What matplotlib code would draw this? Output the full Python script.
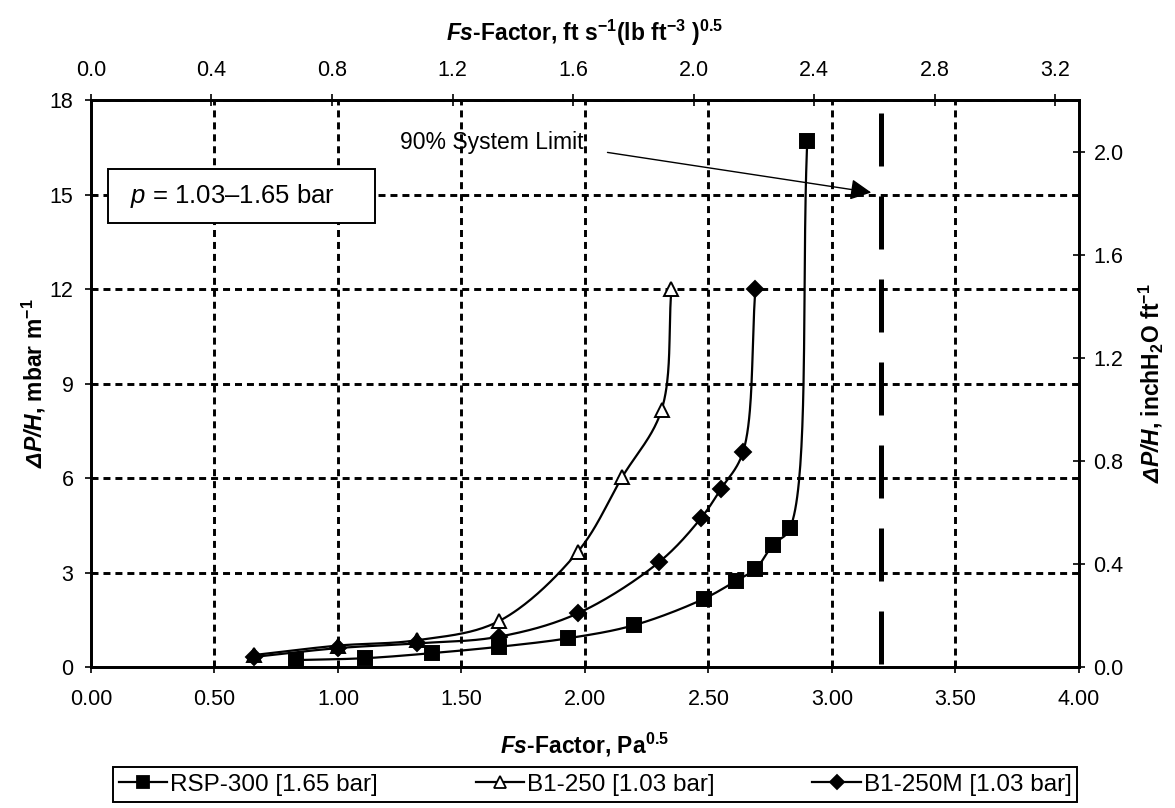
import numpy as np
import matplotlib
matplotlib.use('Agg')
import matplotlib.pyplot as plt
import matplotlib.patches as mpatches
from matplotlib.lines import Line2D

plt.rcParams['font.family'] = ['Liberation Sans', 'DejaVu Sans']
plt.rcParams['mathtext.fontset'] = 'custom'
plt.rcParams['mathtext.rm'] = 'Liberation Sans'
plt.rcParams['mathtext.it'] = 'Liberation Sans:italic'
plt.rcParams['mathtext.bf'] = 'Liberation Sans:bold'
plt.rcParams['mathtext.bfit'] = 'Liberation Sans:bold:italic'

# ── data (Fs-factor in Pa^0.5, dP/H in mbar/m) ──────────────────────
rsp_x = [0.83, 1.11, 1.38, 1.65, 1.93, 2.20, 2.48, 2.61, 2.69, 2.76, 2.83, 2.90]
rsp_y = [0.22, 0.28, 0.44, 0.64, 0.91, 1.33, 2.16, 2.73, 3.11, 3.87, 4.41, 16.7]

b1_x = [0.66, 1.00, 1.32, 1.65, 1.97, 2.15, 2.31, 2.35]
b1_y = [0.38, 0.68, 0.85, 1.45, 3.65, 6.02, 8.16, 12.0]

b1m_x = [0.66, 1.00, 1.32, 1.65, 1.97, 2.30, 2.47, 2.55, 2.64, 2.69]
b1m_y = [0.32, 0.60, 0.75, 0.96, 1.70, 3.33, 4.73, 5.65, 6.83, 12.0]

SYSTEM_LIMIT = 3.2
LABELS = ['RSP-300 [1.65 bar]', 'B1-250 [1.03 bar]', 'B1-250M [1.03 bar]']

FS_TO_IMP = 3.28084 * np.sqrt(0.0624280)        # Pa^0.5 -> ft/s (lb/ft3)^0.5
MBAR_TO_INH2O = 100 * 0.3048 / 249.089          # mbar/m -> inH2O/ft

# rough px per data unit, so the spline is built in screen-like space
SX, SY = 247.0, 31.5


def smooth(x, y, n=40):
    # centripetal Catmull-Rom through the points (Excel-like smoothed line)
    p = np.column_stack([np.asarray(x) * SX, np.asarray(y) * SY]).astype(float)
    p = np.vstack([2 * p[0] - p[1], p, 2 * p[-1] - p[-2]])
    out = []
    for i in range(1, len(p) - 2):
        p0, p1, p2, p3 = p[i - 1], p[i], p[i + 1], p[i + 2]
        t0 = 0.0
        t1 = t0 + np.linalg.norm(p1 - p0) ** 0.5
        t2 = t1 + np.linalg.norm(p2 - p1) ** 0.5
        t3 = t2 + np.linalg.norm(p3 - p2) ** 0.5
        t = np.linspace(t1, t2, n)[:, None]
        a1 = (t1 - t) / (t1 - t0) * p0 + (t - t0) / (t1 - t0) * p1
        a2 = (t2 - t) / (t2 - t1) * p1 + (t - t1) / (t2 - t1) * p2
        a3 = (t3 - t) / (t3 - t2) * p2 + (t - t2) / (t3 - t2) * p3
        b1 = (t2 - t) / (t2 - t0) * a1 + (t - t0) / (t2 - t0) * a2
        b2 = (t3 - t) / (t3 - t1) * a2 + (t - t1) / (t3 - t1) * a3
        out.append((t2 - t) / (t2 - t1) * b1 + (t - t1) / (t2 - t1) * b2)
    c = np.vstack(out)
    return c[:, 0] / SX, c[:, 1] / SY


fig = plt.figure(figsize=(11.75, 8.08), dpi=100)
ax = fig.add_axes([0.0774, 0.1745, 0.8409, 0.7017])

grid_kw = dict(color='black', lw=2.1, ls=(0, (2.4, 1.7)), zorder=1)
for gx in np.arange(0.5, 4.0, 0.5):
    ax.axvline(gx, **grid_kw)
for gy in np.arange(3, 19, 3):
    ax.axhline(gy, **grid_kw)

series = [(rsp_x, rsp_y, 's', 'black', 9.5), (b1_x, b1_y, '^', 'white', 10.5), (b1m_x, b1m_y, 'D', 'black', 8)]
for sx, sy, m, fc, ms in series:
    lx, ly = smooth(sx, sy)
    ax.plot(lx, ly, color='black', lw=1.6, zorder=3)
    ax.plot(sx, sy, ls='none', marker=m, ms=ms, mfc=fc, mec='black', mew=1.4, zorder=4)

# 90% system limit
ax.plot([SYSTEM_LIMIT, SYSTEM_LIMIT], [17.6, 0], color='black', lw=3.6,
        ls=(0, (10.6, 6.0)), solid_capstyle='butt', dash_capstyle='butt', zorder=2)
ax.text(1.25, 16.65, '90% System Limit', fontsize=16.5, ha='left', va='center', zorder=5)
ax.annotate('', xy=(3.17, 15.05), xytext=(2.08, 16.35),
            arrowprops=dict(arrowstyle='-|>', mutation_scale=32, lw=1.0, color='black'), zorder=5)

# pressure box
ax.add_patch(mpatches.Rectangle((0.0172, 0.783), 0.270, 0.095, transform=ax.transAxes,
                                facecolor='white', edgecolor='black', lw=1.4, zorder=5))
ax.text(0.04, 0.831, r'$\it{p}$ = 1.03–1.65 bar', transform=ax.transAxes, fontsize=18.5,
        ha='left', va='center', zorder=6)

ax.set_xlim(0, 4.0)
ax.set_ylim(0, 18)
ax.set_xticks(np.arange(0, 4.01, 0.5))
ax.set_xticklabels([f'{v:.2f}' for v in np.arange(0, 4.01, 0.5)])
ax.set_yticks(np.arange(0, 19, 3))
ax.tick_params(direction='inout', length=9, width=1.2, labelsize=15.5)
ax.tick_params(axis='x', pad=11)
ax.tick_params(axis='y', pad=8)
ax.set_xlabel(r'$\mathbfit{Fs}$-Factor, Pa$^{\mathbf{0.5}}$', fontsize=16.5, fontweight='bold', labelpad=15)
ax.set_ylabel(r'$\mathbfit{\Delta P/H}$, mbar m$^{\mathbf{-1}}$', fontsize=16.5, fontweight='bold', labelpad=1)
for s in ax.spines.values():
    s.set_linewidth(1.8)

axr = ax.twinx()
axr.set_ylim(0, 18 * MBAR_TO_INH2O)
axr.set_yticks(np.arange(0, 2.01, 0.4))
axr.set_yticklabels([f'{v:.1f}' for v in np.arange(0, 2.01, 0.4)])
axr.tick_params(direction='inout', length=9, width=1.2, labelsize=15.5, pad=6)
axr.set_ylabel(r'$\mathbfit{\Delta P/H}$, inchH$_{\mathbf{2}}$O ft$^{\mathbf{-1}}$', fontsize=16.5,
               fontweight='bold', labelpad=9, rotation=90)

axt = ax.twiny()
axt.set_xlim(0, 4.0 * FS_TO_IMP)
axt.set_xticks(np.arange(0, 3.21, 0.4))
axt.set_xticklabels([f'{v:.1f}' for v in np.arange(0, 3.21, 0.4)])
axt.tick_params(direction='inout', length=9, width=1.2, labelsize=15.5, pad=9)
axt.set_xlabel(r'$\mathbfit{Fs}$-Factor, ft s$^{\mathbf{-1}}$(lb ft$^{\mathbf{-3}}$ )$^{\mathbf{0.5}}$',
               fontsize=16.5, fontweight='bold', labelpad=14)
for a in (axr, axt):
    for s in a.spines.values():
        s.set_linewidth(1.8)

handles = [Line2D([], [], color='black', lw=1.6, marker=m, ms=ms * 0.85, mfc=fc, mec='black', mew=1.3)
           for _, _, m, fc, ms in series]
fig.legend(handles, LABELS, loc='center', ncol=3, mode='expand',
           bbox_to_anchor=(0.096, 0.006, 0.821, 0.046), fontsize=17.5, frameon=True,
           fancybox=False, edgecolor='black', framealpha=1, handlelength=2.0,
           handletextpad=0.1, borderpad=0.25, borderaxespad=0)
fig.legends[0].get_frame().set_linewidth(1.4)

fig.savefig('out.png', dpi=100)
